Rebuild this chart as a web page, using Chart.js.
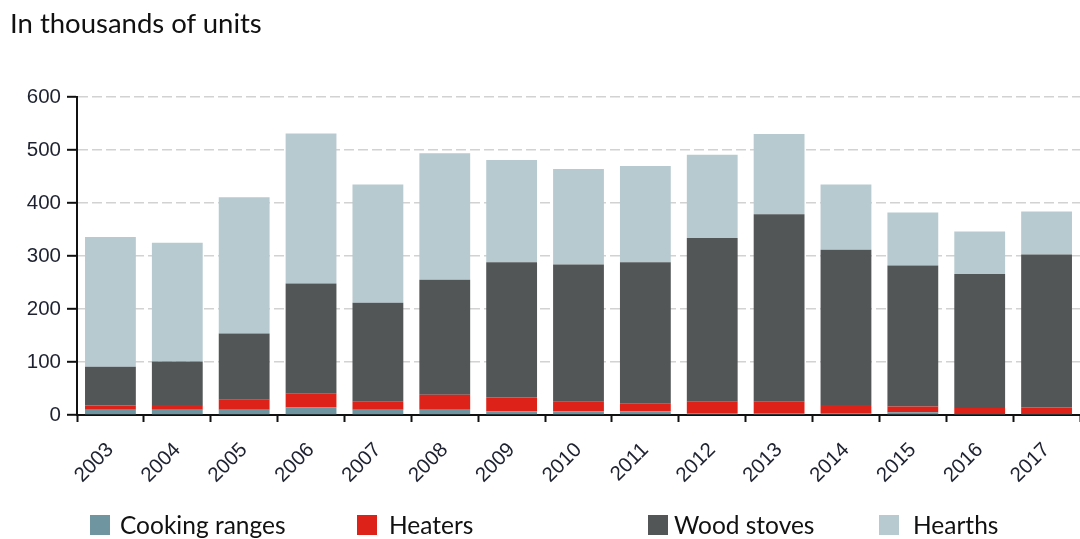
<!DOCTYPE html>
<html>
<head>
<meta charset="utf-8">
<script src="https://cdn.jsdelivr.net/npm/chart.js@4"></script>
<style>
  html, body { margin: 0; padding: 0; background: #fff; }
  #wrap { position: relative; width: 1080px; height: 539px; overflow: hidden; }
  #chart { position: absolute; left: 0; top: 0; }
  #title { position: absolute; left: 10px; top: 6px; font-family: Lato, "Open Sans", sans-serif; font-size: 27.5px; color: #111; white-space: nowrap; }
  .lg-box { position: absolute; top: 515px; width: 20px; height: 20px; }
  .lg-text { position: absolute; top: 510px; font-family: Lato, "Open Sans", sans-serif; font-size: 24.5px; color: #111; white-space: nowrap; line-height: 30px; }
</style>
</head>
<body>
<div id="wrap">
  <canvas id="chart" width="1080" height="539"></canvas>
  <div id="title">In thousands of units</div>
  <div id="legend"></div>
</div>
<script>
// Annual sales by appliance type, thousands of units
const years = ['2003','2004','2005','2006','2007','2008','2009','2010','2011','2012','2013','2014','2015','2016','2017'];
const cookingRanges = [10, 10, 10, 14, 10, 10, 7, 7, 7, 4, 4, 4, 5, 2, 2];
const heaters       = [8, 9, 19, 27, 16, 28, 26, 18, 15, 22, 22, 15, 11, 11, 12];
const woodStoves    = [73, 82, 125, 207, 186, 217, 255, 259, 266, 308, 353, 293, 266, 253, 289];
const hearths       = [245, 224, 257, 283, 223, 239, 193, 180, 182, 157, 151, 123, 100, 80, 81];
const seriesNames   = ['Cooking ranges', 'Heaters', 'Wood stoves', 'Hearths'];
const yTicks        = [0, 100, 200, 300, 400, 500, 600];

const colors = ['#6f96a0', '#dc2219', '#525657', '#b7cad0'];
const seriesData = [cookingRanges, heaters, woodStoves, hearths];

const tickFont = { family: '"Liberation Sans", Arial, sans-serif', size: 20.5 };

new Chart(document.getElementById('chart'), {
  type: 'bar',
  data: {
    labels: years,
    datasets: seriesNames.map((name, i) => ({
      label: name,
      data: seriesData[i],
      backgroundColor: colors[i],
      borderWidth: 0,
      barPercentage: 0.76,
      categoryPercentage: 1.0
    }))
  },
  options: {
    responsive: false,
    animation: false,
    layout: { padding: { left: 0, right: 0, top: 97, bottom: 0 } },
    plugins: { legend: { display: false }, tooltip: { enabled: false }, title: { display: false } },
    scales: {
      x: {
        stacked: true,
        afterFit: (s) => { s.height = 124; },
        grid: {
          display: true, drawOnChartArea: false, drawTicks: true, offset: true,
          tickLength: 7, tickColor: '#111', tickWidth: 2, tickBorderDash: []
        },
        border: { display: true, color: '#111', width: 2 },
        ticks: {
          autoSkip: false, maxRotation: 45, minRotation: 45,
          color: '#1e2230', font: tickFont, padding: 16
        }
      },
      y: {
        stacked: true,
        min: 0, max: 600,
        afterFit: (s) => { s.width = 77; },
        afterBuildTicks: (s) => { s.ticks = yTicks.map(v => ({ value: v })); },
        grid: {
          color: (ctx) => (ctx.tick && ctx.tick.value === 0) ? 'rgba(0,0,0,0)' : '#d2d2d2',
          lineWidth: 1.6,
          borderDash: [10, 4],
          drawTicks: true, tickLength: 10, tickColor: '#111', tickWidth: 2, tickBorderDash: []
        },
        border: { display: true, color: '#111', width: 2, dash: [10, 4] },
        ticks: { color: '#1e2230', font: tickFont, padding: 6 }
      }
    }
  }
});

// Legend row under the chart
const legendBoxLeft  = [90, 357, 648, 879];
const legendTextLeft = [120, 389, 674, 913];
const legend = document.getElementById('legend');
seriesNames.forEach((name, i) => {
  const box = document.createElement('div');
  box.className = 'lg-box';
  box.style.left = legendBoxLeft[i] + 'px';
  box.style.background = colors[i];
  legend.appendChild(box);
  const txt = document.createElement('div');
  txt.className = 'lg-text';
  txt.style.left = legendTextLeft[i] + 'px';
  txt.textContent = name;
  legend.appendChild(txt);
});
</script>
</body>
</html>
